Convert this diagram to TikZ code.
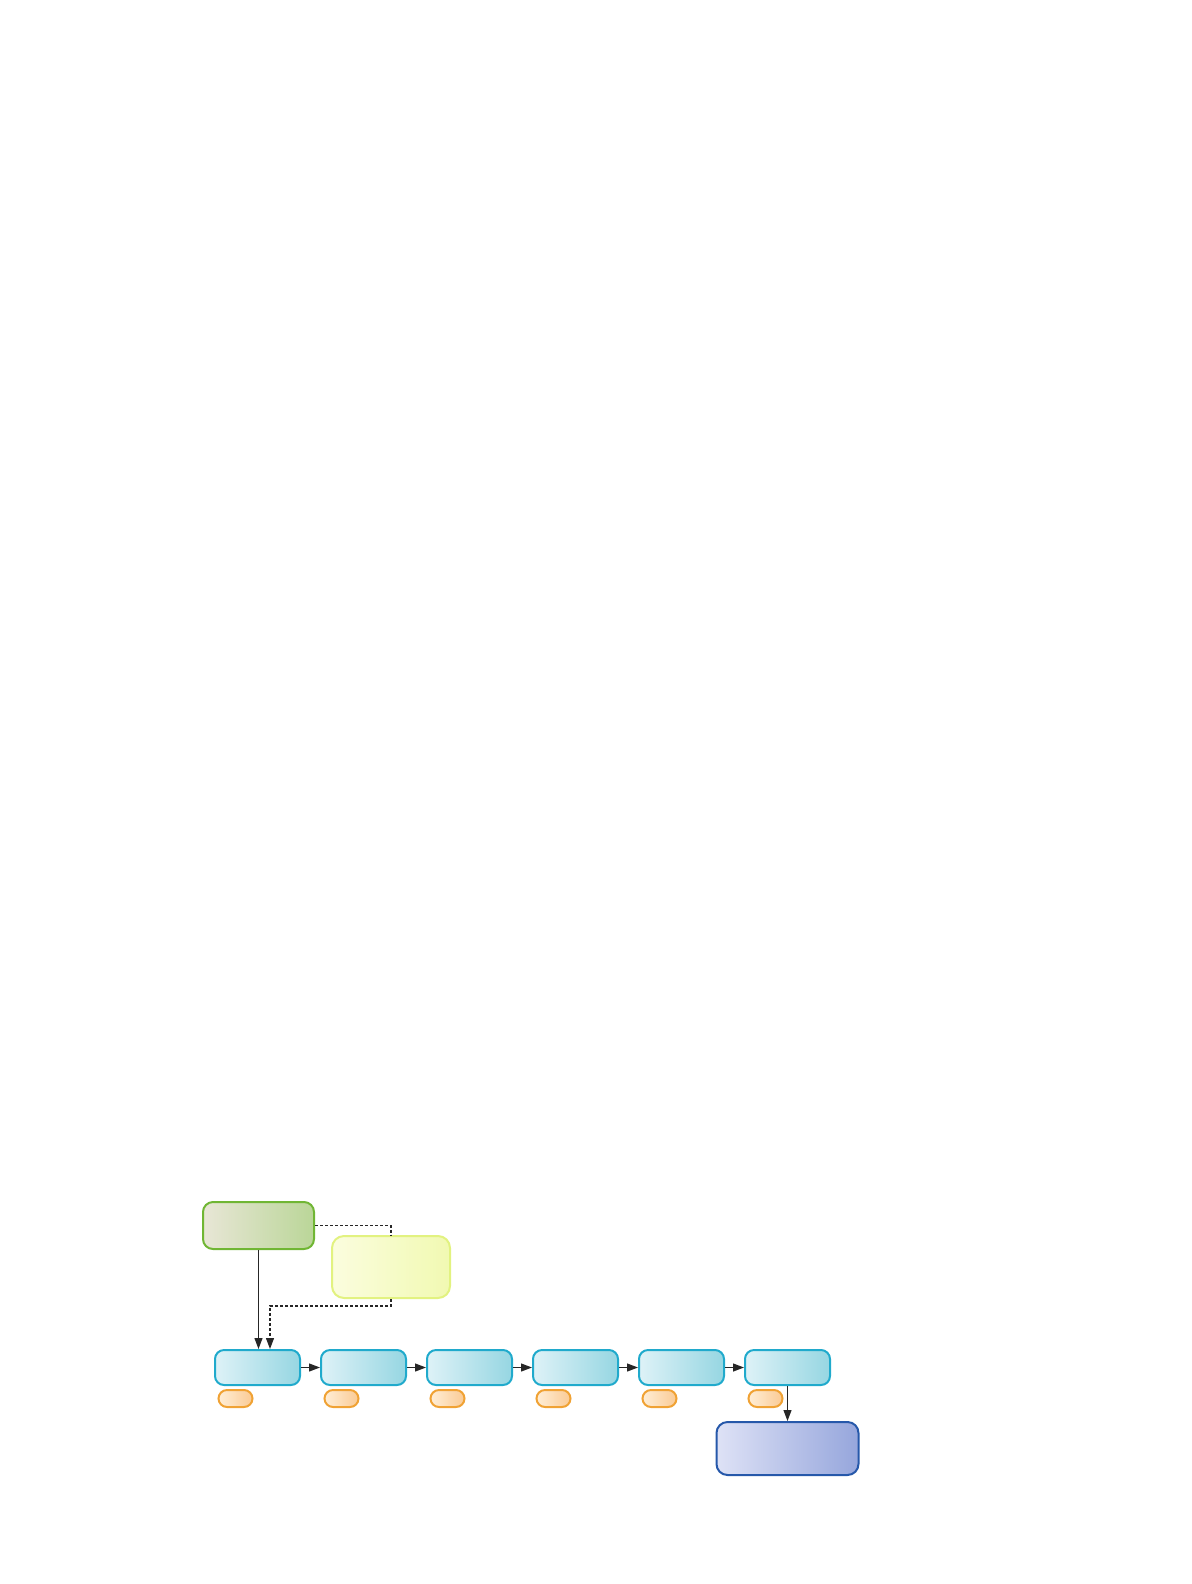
\documentclass[tikz,border=0pt]{standalone}
\usepackage{tikz}
\usetikzlibrary{arrows.meta,positioning}

\definecolor{grnline}{RGB}{112,182,52}
\definecolor{grnleft}{RGB}{232,230,214}
\definecolor{grnright}{RGB}{186,214,152}
\definecolor{yelline}{RGB}{226,242,128}
\definecolor{yelleft}{RGB}{251,253,222}
\definecolor{yelright}{RGB}{241,249,178}
\definecolor{cyline}{RGB}{32,170,204}
\definecolor{cyleft}{RGB}{222,242,247}
\definecolor{cyright}{RGB}{150,214,226}
\definecolor{orline}{RGB}{240,162,52}
\definecolor{orleft}{RGB}{255,238,214}
\definecolor{orright}{RGB}{250,202,148}
\definecolor{blline}{RGB}{38,88,170}
\definecolor{blleft}{RGB}{222,226,246}
\definecolor{blright}{RGB}{150,166,220}

\tikzset{
  box/.style={draw,line width=1pt,inner sep=0pt},
  srcbox/.style={box,draw=grnline,left color=grnleft,right color=grnright,
    rounded corners=5pt,minimum width=55.5pt,minimum height=23.5pt},
  aidbox/.style={box,draw=yelline,left color=yelleft,right color=yelright,
    rounded corners=6pt,minimum width=59pt,minimum height=31pt},
  stagebox/.style={box,draw=cyline,left color=cyleft,right color=cyright,
    rounded corners=4.5pt,minimum width=42.5pt,minimum height=17.5pt},
  pill/.style={box,draw=orline,left color=orleft,right color=orright,
    rounded corners=4.25pt,minimum width=17pt,minimum height=8.5pt},
  outbox/.style={box,draw=blline,left color=blleft,right color=blright,
    rounded corners=5.5pt,minimum width=71pt,minimum height=26.5pt},
  flow/.style={->,line width=0.6pt,black!85},
  dotline/.style={line width=0.6pt,black!85,dash pattern=on 1.5pt off 1pt}
}

\begin{document}
\begin{tikzpicture}[x=0.5pt,y=-0.5pt,>={Triangle[length=5.5pt,width=4pt]}]
      \useasboundingbox (0,0) rectangle (1191,1584);

      \node[srcbox] (src) at (258.5,1225.5) {};
      \node[aidbox] (aid) at (391,1267) {};

      \node[stagebox] (st1) at (257.5,1367.5) {};
      \node[stagebox,right=9.5pt of st1] (st2) {};
      \node[stagebox,right=9.5pt of st2] (st3) {};
      \node[stagebox,right=9.5pt of st3] (st4) {};
      \node[stagebox,right=9.5pt of st4] (st5) {};
      \node[stagebox,right=9.5pt of st5] (st6) {};

      \node[pill,below right=1.5pt and 1.75pt of st1.south west] (tag1) {};
      \node[pill,below right=1.5pt and 1.75pt of st2.south west] (tag2) {};
      \node[pill,below right=1.5pt and 1.75pt of st3.south west] (tag3) {};
      \node[pill,below right=1.5pt and 1.75pt of st4.south west] (tag4) {};
      \node[pill,below right=1.5pt and 1.75pt of st5.south west] (tag5) {};
      \node[pill,below right=1.5pt and 1.75pt of st6.south west] (tag6) {};

      \node[outbox,below=17.5pt of st6] (out) {};

      \draw[flow] (st1) -- (st2);
      \draw[flow] (st2) -- (st3);
      \draw[flow] (st3) -- (st4);
      \draw[flow] (st4) -- (st5);
      \draw[flow] (st5) -- (st6);
      \draw[flow] (st6) -- (out);

      \draw[flow] (src.south) -- (src.south |- st1.north);
%      \draw[flow] (aid.west) -| (st1.north);
      \coordinate (turn) at (aid.south |- 0,1306);
      \draw[dotline] (src.east) -| (aid.north);
      \draw[dotline,->] (aid.south) -- (turn) -| ([xshift=6.25pt]st1.north);
    \end{tikzpicture}
\end{document}
